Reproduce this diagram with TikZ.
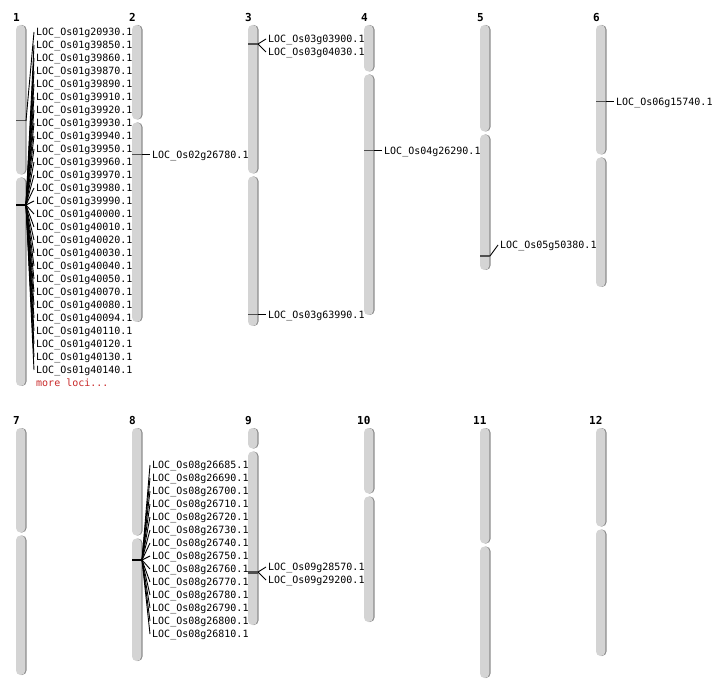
\documentclass[tikz,border=0pt]{standalone}
\usepackage{fontspec}
\setmainfont{DejaVu Sans}
\newfontfamily\monof{DejaVu Sans Mono}
\definecolor{chrfill}{RGB}{212,212,212}
\definecolor{chrshade}{RGB}{140,140,140}
\definecolor{mkgray}{RGB}{80,80,80}
\definecolor{moreRed}{RGB}{200,40,40}
\newcommand\chrarm[3]{%
  \fill[chrshade, rounded corners=4.5pt] ({#1+1.2},#2) rectangle ({#1+10.5},#3);
  \fill[chrfill, rounded corners=4.5pt] (#1,#2) rectangle ({#1+9.3},#3);
}
\newcommand\chrom[4]{% x top cen bot
  \chrarm{#1}{#2}{#3-1.5}
  \chrarm{#1}{#3+1.5}{#4}
}
\begin{document}
\begin{tikzpicture}[x=1pt,y=-1pt,
  loc/.style={font=\monof\fontsize{10}{12}\selectfont, anchor=west, inner xsep=2pt, inner ysep=0pt, text height=7.3pt, text depth=0pt},
  num/.style={font=\monof\bfseries\fontsize{11}{13}\selectfont, anchor=west, inner sep=0pt, text height=8pt, text depth=0pt},
  conn/.style={black, line width=0.9pt},
  mkline/.style={mkgray, line width=1.2pt},
  mkthick/.style={black, line width=2.5pt}]
\useasboundingbox (0,0) rectangle (712,700);
% chromosomes
\chrom{16}{25}{176}{386}
\chrom{132}{25}{121}{322}
\chrom{248}{25}{175}{326}
\chrom{364}{25}{73}{315}
\chrom{480}{25}{133}{270}
\chrom{596}{25}{156}{287}
\chrom{16}{428}{534}{675}
\chrom{132}{428}{537}{661}
\chrom{248}{428}{450}{625}
\chrom{364}{428}{495}{622}
\chrom{480}{428}{545}{678}
\chrom{596}{428}{528}{656}
% numbers
\node[num] (n1) at (13,17.5) {1};
\node[num] (n2) at (129,17.5) {2};
\node[num] (n3) at (245,17.5) {3};
\node[num] (n4) at (361,17.5) {4};
\node[num] (n5) at (477,17.5) {5};
\node[num] (n6) at (593,17.5) {6};
\node[num] (n7) at (13,420.5) {7};
\node[num] (n8) at (129,420.5) {8};
\node[num] (n9) at (245,420.5) {9};
\node[num] (n10) at (357,420.5) {10};
\node[num] (n11) at (473,420.5) {11};
\node[num] (n12) at (589,420.5) {12};
% marker coordinates
\coordinate (m1a) at (26,121);
\coordinate (m1b) at (26,205);
\coordinate (m2) at (142,154.5);
\coordinate (m3a) at (258,44);
\coordinate (m3b) at (258,314.5);
\coordinate (m4) at (374,150.5);
\coordinate (m5) at (490,256);
\coordinate (m6) at (606,101.5);
\coordinate (m8) at (142,560);
\coordinate (m9) at (258,572);
% markers on chromosomes
\draw[mkline, line width=1pt] (16,121) -- (m1a);
\draw[mkthick] (16,205) -- (m1b);
\draw[mkline] (132,154.5) -- (m2);
\draw[mkline, line width=2pt] (248,44) -- (m3a);
\draw[mkline] (248,314.5) -- (m3b);
\draw[mkline] (364,150.5) -- (m4);
\draw[mkline] (480,256) -- (m5);
\draw[mkline] (596,101.5) -- (m6);
\draw[mkthick] (132,560) -- (m8);
\draw[mkline, line width=3pt] (248,572) -- (m9);
% chr1 labels
\node[loc] (c1l0) at (34,32) {LOC\_Os01g20930.1};
\draw[conn] (m1a) -- (c1l0.west);
\foreach \g [count=\i] in {39850,39860,39870,39890,39910,39920,39930,39940,39950,39960,39970,39980,39990,40000,40010,40020,40030,40040,40050,40070,40080,40094,40110,40120,40130,40140}{
  \node[loc] (c1l\i) at (34,{32+13*\i}) {LOC\_Os01g\g.1};
  \draw[conn] (m1b) -- (c1l\i.west);
}
\node[loc, text=moreRed] (more) at (34,383) {more loci...};
% chr2
\node[loc] (c2l) at (150,154.5) {LOC\_Os02g26780.1};
\draw[conn] (m2) -- (c2l.west);
% chr3
\node[loc] (c3l1) at (266,39) {LOC\_Os03g03900.1};
\node[loc] (c3l2) at (266,52) {LOC\_Os03g04030.1};
\draw[conn] (m3a) -- (c3l1.west);
\draw[conn] (m3a) -- (c3l2.west);
\node[loc] (c3l3) at (266,314.5) {LOC\_Os03g63990.1};
\draw[conn] (m3b) -- (c3l3.west);
% chr4
\node[loc] (c4l) at (382,150.5) {LOC\_Os04g26290.1};
\draw[conn] (m4) -- (c4l.west);
% chr5
\node[loc] (c5l) at (498,245) {LOC\_Os05g50380.1};
\draw[conn] (m5) -- (c5l.west);
% chr6
\node[loc] (c6l) at (614,101.5) {LOC\_Os06g15740.1};
\draw[conn] (m6) -- (c6l.west);
% chr8
\foreach \g [count=\i from 0] in {26685,26690,26700,26710,26720,26730,26740,26750,26760,26770,26780,26790,26800,26810}{
  \node[loc] (c8l\i) at (150,{465+13*\i}) {LOC\_Os08g\g.1};
  \draw[conn] (m8) -- (c8l\i.west);
}
% chr9
\node[loc] (c9l1) at (266,567) {LOC\_Os09g28570.1};
\node[loc] (c9l2) at (266,580) {LOC\_Os09g29200.1};
\draw[conn] (m9) -- (c9l1.west);
\draw[conn] (m9) -- (c9l2.west);
\end{tikzpicture}
\end{document}
